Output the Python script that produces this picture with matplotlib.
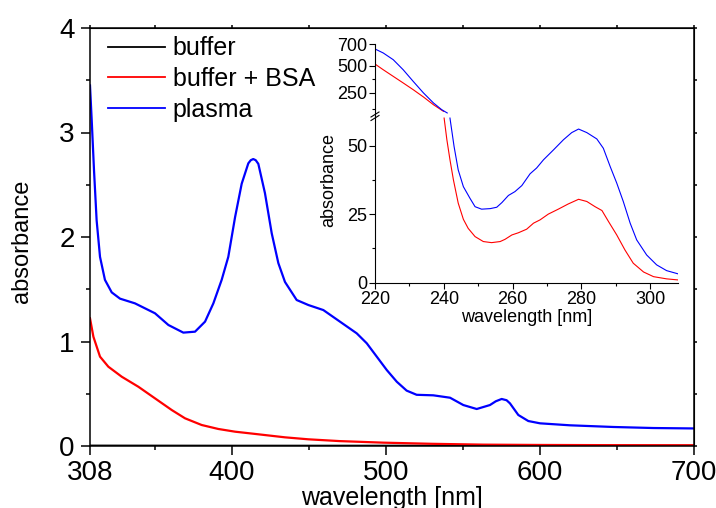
import numpy as np
import matplotlib
matplotlib.use('Agg')
import matplotlib.pyplot as plt
from matplotlib.lines import Line2D

plt.rcParams['font.family'] = ['Liberation Sans', 'DejaVu Sans']

# ---------------- main spectra ----------------
wl_plasma = [308.0, 309.1, 310.6, 312.3, 314.5, 317.7, 322.1, 327.5, 337.2, 350.2,
             358.9, 368.6, 376.2, 382.7, 388.1, 393.5, 397.8, 402.2, 406.5, 410.8,
             412.4, 414.0, 415.6, 417.3, 421.6, 426.0, 430.3, 434.6, 442.2, 449.8,
             459.5, 470.3, 481.2, 487.7, 494.2, 500.7, 507.2, 513.6, 520.1, 530.9,
             541.8, 550.4, 559.1, 567.7, 571.5, 575.3, 578.5, 580.7, 586.1, 592.6,
             600.2, 619.7, 647.8, 673.8, 700.0]
abs_plasma = [3.45, 3.12, 2.64, 2.16, 1.81, 1.59, 1.47, 1.41, 1.365, 1.27,
              1.158, 1.085, 1.094, 1.19, 1.365, 1.59, 1.81, 2.19, 2.51, 2.705,
              2.735, 2.746, 2.735, 2.70, 2.42, 2.035, 1.75, 1.57, 1.397, 1.349,
              1.301, 1.19, 1.078, 0.983, 0.855, 0.727, 0.615, 0.53, 0.49, 0.485,
              0.462, 0.392, 0.354, 0.392, 0.428, 0.45, 0.438, 0.408, 0.297, 0.239,
              0.217, 0.198, 0.182, 0.172, 0.168]

wl_bsa = [308.0, 310.2, 314.5, 319.9, 328.6, 339.4, 350.2, 361.1, 369.7, 380.5,
          391.3, 402.2, 417.3, 434.6, 449.8, 470.0, 498.5, 530.0, 563.4, 600.0, 650.0, 700.0]
abs_bsa = [1.222, 1.046, 0.855, 0.759, 0.663, 0.567, 0.456, 0.344, 0.265, 0.201,
           0.163, 0.137, 0.112, 0.083, 0.064, 0.047, 0.032, 0.021, 0.013, 0.010, 0.008, 0.007]

wl_buffer = [308.0, 400.0, 500.0, 600.0, 700.0]
abs_buffer = [0.003, 0.002, 0.002, 0.002, 0.002]

series_labels = ['buffer', 'buffer + BSA', 'plasma']
series_colors = ['black', '#ff0000', '#0000ff']

main_xticks = [308, 400, 500, 600, 700]
main_xminor = [350, 450, 550, 650]
main_yticks = [0, 1, 2, 3, 4]
main_yminor = [0.5, 1.5, 2.5, 3.5]

# ---------------- inset spectra (220-308 nm) ----------------
in_wl_plasma_hi = [220.0, 222.4, 225.3, 228.2, 231.1, 234.1, 237.0, 239.4, 241.0]
in_abs_plasma_hi = [654, 617, 555, 462, 355, 248, 169, 116, 90]
in_wl_plasma_lo = [241.8, 243.0, 244.2, 245.7, 247.6, 249.1, 251.0, 253.5, 255.4, 256.9,
                   258.8, 260.7, 262.7, 265.1, 267.0, 269.0, 271.9, 274.8, 277.2, 279.2,
                   281.6, 284.5, 286.4, 288.4, 290.3, 292.2, 294.2, 296.1, 299.0, 301.9,
                   304.8, 308.2]
in_abs_plasma_lo = [60.0, 49.6, 41.1, 35.0, 30.8, 27.7, 26.8, 27.0, 27.5, 29.2,
                    31.8, 33.2, 35.4, 39.7, 41.8, 44.8, 48.4, 52.1, 54.7, 56.0,
                    54.7, 52.4, 49.0, 42.3, 36.3, 29.6, 21.7, 15.6, 10.1, 6.5,
                    4.4, 3.2]

in_wl_bsa_hi = [220.0, 222.4, 225.3, 228.2, 231.1, 234.1, 237.0, 239.9]
in_abs_bsa_hi = [515, 462, 401, 340, 278, 216, 155, 103]
in_wl_bsa_lo = [240.1, 240.9, 241.8, 242.8, 244.2, 245.7, 247.1, 249.1, 251.5, 253.9,
                256.4, 257.8, 259.8, 261.7, 264.1, 266.1, 268.0, 270.4, 273.3, 276.2,
                279.2, 281.6, 284.0, 286.0, 287.9, 290.3, 292.7, 295.1, 298.1, 301.0,
                304.8, 308.2]
in_abs_bsa_lo = [60.0, 52.1, 44.8, 37.5, 29.0, 23.1, 19.8, 16.8, 15.0, 14.6,
                 15.0, 15.8, 17.4, 18.2, 19.5, 21.7, 22.9, 25.0, 26.8, 28.7,
                 30.4, 29.6, 27.7, 26.3, 22.3, 17.4, 11.9, 7.1, 3.9, 2.2,
                 1.4, 1.0]

inset_xticks = [220, 240, 260, 280, 300]
inset_xminor = [230, 250, 270, 290]
inset_yticks = [0, 25, 50, 250, 500, 700]
inset_yminor = [12.5, 37.5, 125, 375]

# ---------------- figure ----------------
W, H = 716, 508
fig = plt.figure(figsize=(W / 100, H / 100), dpi=100)

ax = fig.add_axes([90 / W, 1 - 446 / H, 603.7 / W, 418 / H])
l_buf, = ax.plot(wl_buffer, abs_buffer, color=series_colors[0], lw=1.6, label=series_labels[0])
l_bsa, = ax.plot(wl_bsa, abs_bsa, color=series_colors[1], lw=1.6, label=series_labels[1],
                 solid_joinstyle='round')
l_pl, = ax.plot(wl_plasma, abs_plasma, color=series_colors[2], lw=1.6, label=series_labels[2],
                solid_joinstyle='round')
ax.set_xlim(308, 700)
ax.set_ylim(0, 4)
ax.set_xticks(main_xticks)
ax.set_xticks(main_xminor, minor=True)
ax.set_yticks(main_yticks)
ax.set_yticks(main_yminor, minor=True)
ax.set_yticklabels([str(v) for v in main_yticks])
for s in ax.spines.values():
    s.set_linewidth(1.1)
ax.tick_params(which='major', direction='out', length=6.5, width=1.1, labelsize=20, pad=3.5)
ax.tick_params(which='minor', direction='out', length=3, width=1.1)
ax.tick_params(axis='y', which='major', pad=4.5)

top = ax.secondary_xaxis('top')
top.set_xticks(main_xticks)
top.set_xticks(main_xminor, minor=True)
top.tick_params(which='both', direction='out', length=2.5, width=1.1, labeltop=False)
top.set_xticklabels([])
right = ax.secondary_yaxis('right')
right.set_yticks(main_yticks)
right.set_yticks(main_yminor, minor=True)
right.tick_params(which='both', direction='out', length=2.5, width=1.1, labelright=False)
right.set_yticklabels([])

ax.set_xlabel('wavelength [nm]', fontsize=18)
ax.xaxis.set_label_coords(0.5, -0.095)
ax.set_ylabel('absorbance', fontsize=17)
ax.yaxis.set_label_coords(-0.094, 0.49)

leg = ax.legend(handles=[l_buf, l_bsa, l_pl], loc='upper left', bbox_to_anchor=(0.029, 0.98),
                frameon=False, fontsize=18, handlelength=2.3, handletextpad=0.3,
                labelspacing=0.27, borderpad=0, borderaxespad=0)
for h in leg.get_lines():
    h.set_linewidth(1.3)

# ---------------- inset ----------------
seg_v = np.array([0.0, 60.5, 250.0, 700.0])
seg_p = np.array([0.0, 166.0, 190.0, 238.7])


def fwd(v):
    return np.interp(v, seg_v, seg_p)


def inv(p):
    return np.interp(p, seg_p, seg_v)


ins = fig.add_axes([375 / W, 1 - 282.7 / H, 303.3 / W, 238.7 / H])
ins.set_yscale('function', functions=(fwd, inv))
ins.plot(in_wl_bsa_hi, in_abs_bsa_hi, color=series_colors[1], lw=0.8)
ins.plot(in_wl_bsa_lo, in_abs_bsa_lo, color=series_colors[1], lw=0.8)
ins.plot(in_wl_plasma_hi, in_abs_plasma_hi, color=series_colors[2], lw=0.8)
ins.plot(in_wl_plasma_lo, in_abs_plasma_lo, color=series_colors[2], lw=0.8)
ins.set_xlim(220, 308.2)
ins.set_ylim(0, 700)
ins.spines['top'].set_visible(False)
ins.spines['right'].set_visible(False)
for s in ('left', 'bottom'):
    ins.spines[s].set_linewidth(0.8)
ins.set_xticks(inset_xticks)
ins.set_xticks(inset_xminor, minor=True)
ins.set_yticks(inset_yticks)
ins.set_yticks(inset_yminor, minor=True)
ins.set_yticklabels([str(v) for v in inset_yticks])
ins.set_xticklabels([str(v) for v in inset_xticks])
ins.tick_params(which='major', direction='out', length=4.5, width=0.8, labelsize=13, pad=1.2)
ins.tick_params(which='minor', direction='out', length=2.5, width=0.8)
ins.set_xlabel('wavelength [nm]', fontsize=13)
ins.xaxis.set_label_coords(0.5, -0.11)
ins.set_ylabel('absorbance', fontsize=13)
ins.yaxis.set_label_coords(-0.125, 0.432)
ins.patch.set_alpha(0)

# axis-break marks on the inset y axis
for dy in (0, 3.5):
    fig.add_artist(Line2D([371 / W, 379 / W], [1 - (120.5 - dy) / H, 1 - (115.5 - dy) / H],
                          color='black', lw=0.8, transform=fig.transFigure))

fig.savefig('out.png', dpi=100)
